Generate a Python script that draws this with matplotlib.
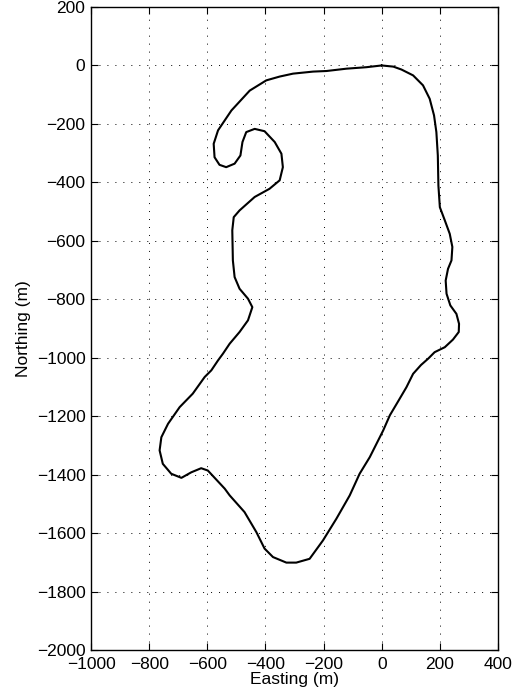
import matplotlib.pyplot as plt

plt.rcParams['font.family'] = ['Liberation Sans', 'DejaVu Sans']

# track points (m), start/end at origin
easting = [0, 40, 68, 108, 142, 165, 180, 188, 193, 195, 200, 217, 234, 243, 240,
           228, 220, 223, 236, 257, 266, 265, 245, 217, 182, 160, 135, 108, 85, 56,
           28, 5, -41, -76, -110, -156, -202, -248, -294, -328, -374, -403, -431,
           -472, -523, -540, -598, -621, -655, -689, -724, -753, -764, -758, -735,
           -695, -650, -609, -586, -563, -546, -523, -489, -460, -445, -460, -489,
           -506, -512, -514, -509, -489, -437, -386, -351, -340, -345, -368, -403,
           -437, -466, -479, -486, -506, -535, -558, -575, -578, -563, -517, -454,
           -397, -351, -305, -236, -190, -121, -53, 0]
northing = [0, -4, -14, -34, -68, -114, -171, -228, -308, -411, -485, -530, -576,
            -621, -667, -696, -736, -781, -821, -850, -884, -912, -938, -964, -981,
            -1003, -1025, -1055, -1101, -1150, -1197, -1249, -1340, -1397, -1471,
            -1551, -1625, -1688, -1701, -1701, -1682, -1653, -1597, -1528, -1471,
            -1448, -1386, -1378, -1392, -1411, -1397, -1363, -1317, -1272, -1226,
            -1169, -1123, -1066, -1043, -1009, -986, -952, -912, -872, -827, -798,
            -764, -724, -667, -564, -519, -496, -450, -422, -393, -348, -302, -262,
            -225, -217, -228, -262, -308, -336, -348, -340, -314, -268, -222, -154,
            -86, -51, -38, -28, -21, -19, -11, -6, 0]

xticks = [-1000, -800, -600, -400, -200, 0, 200, 400]
yticks = [200, 0, -200, -400, -600, -800, -1000, -1200, -1400, -1600, -1800, -2000]

fig = plt.figure(figsize=(5.21, 7.0), dpi=100)
ax = fig.add_axes([91/521, 1 - 650/700, (498 - 91)/521, (650 - 7)/700])

ax.plot(easting, northing, color='black', linewidth=1.5,
        solid_joinstyle='round', solid_capstyle='round')

ax.set_xlim(-1000, 400)
ax.set_ylim(-2000, 200)
ax.set_xticks(xticks)
ax.set_yticks(yticks)
ax.grid(True, linestyle=(0, (1, 7.2)), color='black', linewidth=0.7)
ax.tick_params(direction='in', top=True, right=True, length=5, width=0.8,
               labelsize=12.5)
ax.tick_params(axis='x', pad=5)
ax.tick_params(axis='y', pad=4)
for s in ax.spines.values():
    s.set_linewidth(1.0)

ax.set_xlabel('Easting (m)', fontsize=12.5, labelpad=0)
ax.set_ylabel('Northing (m)', fontsize=12.5, labelpad=4)

fig.savefig('out.png', dpi=100)
